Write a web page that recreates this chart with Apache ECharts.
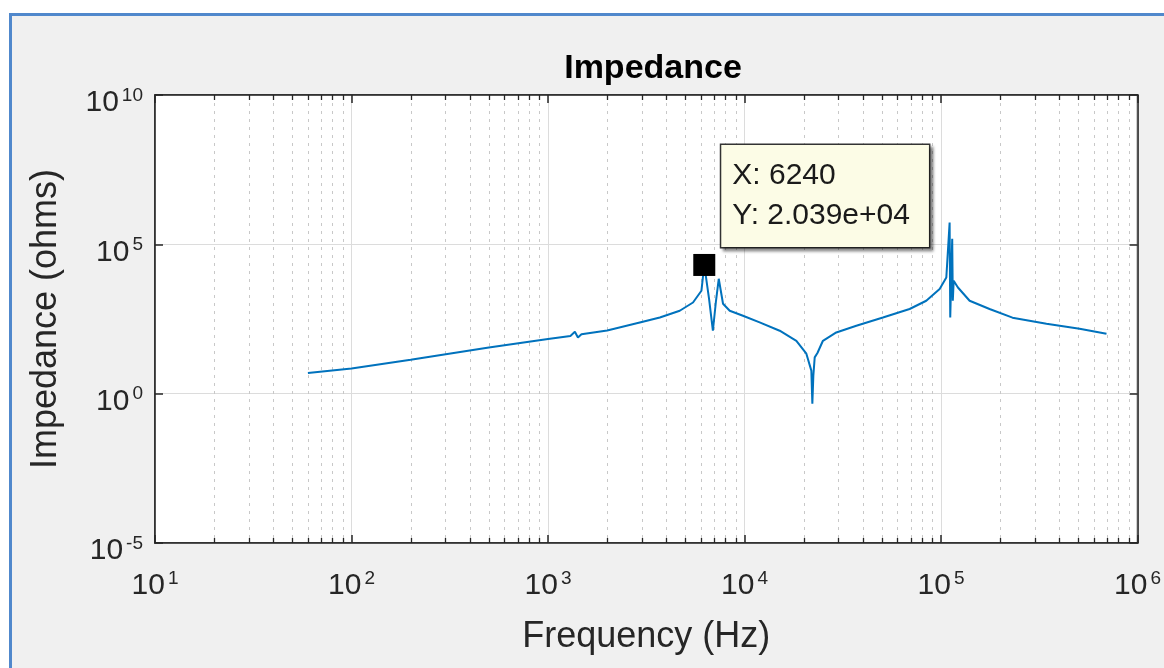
<!DOCTYPE html>
<html>
<head>
<meta charset="utf-8">
<title>Impedance</title>
<script src="https://cdn.jsdelivr.net/npm/echarts@6/dist/echarts.min.js"></script>
<style>
  html, body { margin: 0; padding: 0; background: #fff; }
  #frame { position: absolute; left: 9px; top: 13px; width: 1160px; height: 660px;
           background: #f0f0f0; border-left: 3px solid #5088cc; border-top: 3px solid #5088cc; }
  #main { position: absolute; left: 0; top: 0; width: 1164px; height: 668px; }
</style>
</head>
<body>
<div id="frame"></div>
<div id="main"></div>
<script>
  // frequency (Hz) and impedance (ohms)
  var freq = [60, 100, 200, 500, 1000, 1300, 1370, 1420, 1480,
              2000, 2931, 3707, 4680, 5468, 6035, 6240, 6600, 6902, 7160, 7394, 7774, 8408, 9820,
              11940, 15100, 18360, 20640, 21880, 22140, 22400, 22760, 23500,
              25060, 29310, 37060, 50630, 69200, 84100, 98400, 106400,
              110600, 111400, 114000, 114800, 116000, 121900, 139800, 176600,
              231000, 344000, 507000, 695000];
  var impedance = [4.9, 7.0, 13.7, 35, 68, 86, 118, 76, 97,
                   130, 243, 356, 597, 1130, 2785, 20390, 1500, 128, 1290, 7020, 1024, 597, 406,
                   243, 128, 59, 21.8, 5.9, 0.46, 4, 16.4, 23,
                   59, 112, 188, 356, 683, 1290, 3176, 7740,
                   536000, 356, 152700, 1290, 6000, 3590, 1290, 683,
                   350, 219, 149, 102];

  // data tip
  var tipFreq = 6240;
  var tipValue = 20390;

  // minor grid positions on the frequency axis
  var minorFreq = [20, 30, 40, 50, 60, 70, 80, 90,
                   200, 300, 400, 500, 600, 700, 800, 900,
                   2000, 3000, 4000, 5000, 6000, 7000, 8000, 9000,
                   20000, 30000, 40000, 50000, 60000, 70000, 80000, 90000,
                   200000, 300000, 400000, 500000, 600000, 700000, 800000, 900000];

  var FONT = "'Liberation Sans', Arial, Helvetica, sans-serif";
  var INK = '#262626';

  var labelRich = {
    b: { fontSize: 30, lineHeight: 34, color: INK, fontFamily: FONT },
    s: { fontSize: 19, lineHeight: 14, verticalAlign: 'top', color: INK, fontFamily: FONT, padding: [0, 0, 0, 3] }
  };
  function powLabel(v) {
    var e = Math.round(Math.log10(v));
    return '{b|10}{s|' + e + '}';
  }
  function tipText() {
    var y = tipValue.toExponential(3).replace(/e([+-])(\d)$/, 'e$10$2');
    return 'X: ' + tipFreq + '\nY: ' + y;
  }

  var myChart = echarts.init(document.getElementById('main'), null, { renderer: 'canvas' });

  var tickLine = { color: INK, width: 1.5 };

  var option = {
    animation: false,
    backgroundColor: 'transparent',
    title: {
      text: 'Impedance',
      left: 648, top: 47, textAlign: 'center',
      textStyle: { fontSize: 34, fontWeight: 'bold', color: '#000', fontFamily: FONT }
    },
    grid: {
      left: 155, top: 95, width: 983, height: 448,
      show: true, backgroundColor: '#fff', borderColor: INK, borderWidth: 1.5
    },
    xAxis: [{
      type: 'log', logBase: 10, min: 10, max: 1000000, position: 'bottom',
      axisLine: { show: true, lineStyle: tickLine },
      axisTick: { show: true, inside: true, length: 8, lineStyle: tickLine },
      axisLabel: { margin: 26, formatter: powLabel, rich: labelRich },
      splitLine: { show: true, lineStyle: { color: '#dcdcdc', width: 1 } },
      name: 'Frequency (Hz)', nameLocation: 'middle', nameGap: 76,
      nameTextStyle: { fontSize: 36, color: INK, fontFamily: FONT }
    }, {
      type: 'log', logBase: 10, min: 10, max: 1000000, position: 'top',
      axisLine: { show: true, lineStyle: tickLine },
      axisTick: { show: true, inside: true, length: 8, lineStyle: tickLine },
      axisLabel: { show: false },
      splitLine: { show: false }
    }],
    yAxis: [{
      // base 1e5 puts a tick every five decades
      type: 'log', logBase: 100000, min: 0.00001, max: 10000000000, position: 'left',
      axisLine: { show: true, lineStyle: tickLine },
      axisTick: { show: true, inside: true, length: 8, lineStyle: tickLine },
      axisLabel: { margin: 12, formatter: powLabel, rich: labelRich, padding: [16, 0, 0, 0] },
      splitLine: { show: true, lineStyle: { color: '#dcdcdc', width: 1 } },
      name: 'Impedance (ohms)', nameLocation: 'middle', nameGap: 91,
      nameTextStyle: { fontSize: 36, color: INK, fontFamily: FONT }
    }, {
      type: 'log', logBase: 100000, min: 0.00001, max: 10000000000, position: 'right',
      axisLine: { show: true, lineStyle: tickLine },
      axisTick: { show: true, inside: true, length: 8, lineStyle: tickLine },
      axisLabel: { show: false },
      splitLine: { show: false }
    }],
    series: [{
      // dotted minor grid and minor ticks
      type: 'custom',
      xAxisIndex: 0, yAxisIndex: 0,
      silent: true, z: 1, clip: false,
      data: minorFreq.map(function (f) { return [f, 1]; }),
      renderItem: function (params, api) {
        var x = Math.round(api.coord([api.value(0), 1])[0]) + 0.5;
        var cs = params.coordSys;
        var top = cs.y, bottom = cs.y + cs.height;
        return {
          type: 'group',
          children: [
            { type: 'line', shape: { x1: x, y1: top, x2: x, y2: bottom },
              style: { stroke: '#c8c8c8', lineWidth: 1, lineDash: [3, 5] } },
            { type: 'line', shape: { x1: x, y1: bottom, x2: x, y2: bottom - 5 },
              style: { stroke: INK, lineWidth: 1.3 } },
            { type: 'line', shape: { x1: x, y1: top, x2: x, y2: top + 5 },
              style: { stroke: INK, lineWidth: 1.3 } }
          ]
        };
      }
    }, {
      name: 'Impedance',
      type: 'line',
      xAxisIndex: 0, yAxisIndex: 0,
      z: 3,
      data: freq.map(function (f, i) { return [f, impedance[i]]; }),
      showSymbol: false,
      symbol: 'none',
      lineStyle: { color: '#0072bd', width: 2 },
      markPoint: {
        silent: true,
        symbol: 'rect',
        symbolSize: 22,
        itemStyle: { color: '#000' },
        label: {
          show: true,
          position: [28, -109],
          align: 'left', verticalAlign: 'top',
          formatter: tipText,
          fontSize: 30, lineHeight: 40, color: '#1a1a1a', fontFamily: FONT,
          backgroundColor: '#fcfce6', borderColor: '#333', borderWidth: 1.5,
          padding: [11, 19, 11, 11],
          shadowColor: 'rgba(0,0,0,0.4)', shadowOffsetX: 3, shadowOffsetY: 3, shadowBlur: 3
        },
        data: [{ coord: [tipFreq, tipValue] }]
      }
    }]
  };

  myChart.setOption(option);
</script>
</body>
</html>
